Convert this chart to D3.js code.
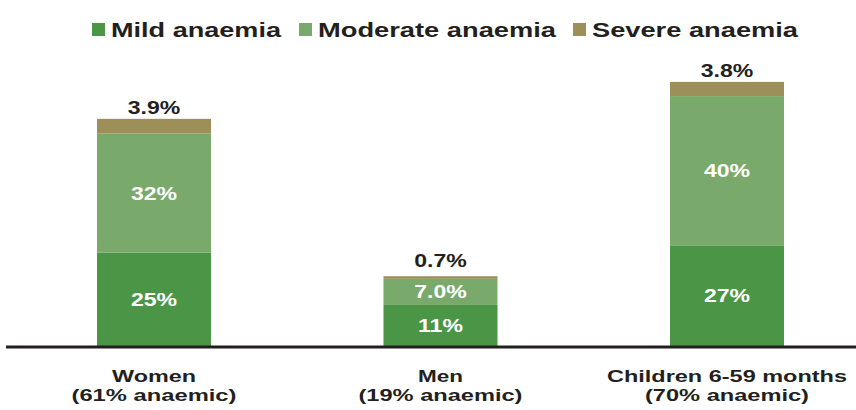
<!DOCTYPE html>
<html>
<head>
<meta charset="utf-8">
<script src="https://cdn.jsdelivr.net/npm/d3@7"></script>
<style>
body { margin: 0; background: #fff; }
</style>
</head>
<body>
<div id="chart"></div>
<script>
// data
let categories = ["Women", "Men", "Children 6-59 months"];
let subLabels = ["(61% anaemic)", "(19% anaemic)", "(70% anaemic)"];
let seriesNames = ["Mild anaemia", "Moderate anaemia", "Severe anaemia"];
let mild = [25, 11, 27];
let moderate = [32, 7.0, 40];
let severe = [3.9, 0.7, 3.8];
let valueLabels = [["25%", "11%", "27%"], ["32%", "7.0%", "40%"], ["3.9%", "0.7%", "3.8%"]];

let palette = ["#4a9646", "#79aa6b", "#9c8f58"];
let width = 856, height = 410;
let font = "'Liberation Sans', Arial, sans-serif";
let stretch = 1.28;   // the reference text is wide, stretch glyphs a bit

let svg = d3.select("#chart").append("svg")
    .attr("width", width)
    .attr("height", height);

let x = d3.scaleBand().domain(categories).range([10.75, 870.25]).paddingInner(0.602).paddingOuter(0.301);
let y = d3.scaleLinear().domain([0, 100]).range([346, -27]);

let table = categories.map(function(c, i){
    return {cat: c, mild: mild[i], moderate: moderate[i], severe: severe[i]};
});
let stack = d3.stack().keys(["mild", "moderate", "severe"]);
let layers = stack(table);

function widen(sel){
    sel.each(function(){
        let w = this.getComputedTextLength();
        d3.select(this).attr("textLength", w*stretch).attr("lengthAdjust", "spacingAndGlyphs");
    });
}

let barGroup = svg.append("g");
layers.forEach(function(layer, k){
    barGroup.append("g").selectAll("rect")
        .data(layer).enter()
        .append("rect")
            .attr("x", function(d){ return x(d.data.cat); })
            .attr("y", function(d){ return y(d[1]); })
            .attr("width", x.bandwidth())
            .attr("height", function(d){ return y(d[0]) - y(d[1]); })
            .attr("fill", palette[k]);
});

// inside labels (mild, moderate)
[0, 1].forEach(function(k){
    svg.append("g").selectAll("text")
        .data(layers[k]).enter()
        .append("text")
            .attr("x", function(d){ return x(d.data.cat) + x.bandwidth()/2; })
            .attr("y", function(d){ return (y(d[0]) + y(d[1]))/2; })
            .attr("dy", "0.36em")
            .attr("text-anchor", "middle")
            .attr("fill", "white")
            .attr("font-family", font)
            .attr("font-weight", "bold")
            .attr("font-size", 18)
            .text(function(d, i){ return valueLabels[k][i]; })
            .call(widen);
});

// severe labels above bars
svg.append("g").selectAll("text")
    .data(layers[2]).enter()
    .append("text")
        .attr("x", function(d){ return x(d.data.cat) + x.bandwidth()/2; })
        .attr("y", function(d, i){ return y(d[1]) - (i == 1 ? 9 : 5); })
        .attr("text-anchor", "middle")
        .attr("fill", "#231f20")
        .attr("font-family", font)
        .attr("font-weight", "bold")
        .attr("font-size", 18)
        .text(function(d, i){ return valueLabels[2][i]; })
        .call(widen);

// axis
let xAxis = svg.append("g").attr("class", "axis axis--x")
    .attr("transform", "translate(0," + 347 + ")")
    .call(d3.axisBottom(x).tickSize(0).tickFormat(""));
xAxis.select(".domain").remove();
xAxis.append("line")
    .attr("x1", 6).attr("x2", 856)
    .attr("y1", 0).attr("y2", 0)
    .attr("stroke", "#231f20")
    .attr("stroke-width", 3);

let catWidths = [84, 45, 240];
let subWidths = [165, 164, 164];
categories.forEach(function(c, i){
    let cx = x(c) + x.bandwidth()/2;
    svg.append("text")
        .attr("x", cx).attr("y", 382)
        .attr("text-anchor", "middle")
        .attr("font-family", font)
        .attr("font-weight", "bold")
        .attr("font-size", 17)
        .attr("fill", "#231f20")
        .attr("textLength", catWidths[i])
        .attr("lengthAdjust", "spacingAndGlyphs")
        .text(c);
    svg.append("text")
        .attr("x", cx).attr("y", 401)
        .attr("text-anchor", "middle")
        .attr("font-family", font)
        .attr("font-weight", "bold")
        .attr("font-size", 17)
        .attr("fill", "#231f20")
        .attr("textLength", subWidths[i])
        .attr("lengthAdjust", "spacingAndGlyphs")
        .text(subLabels[i]);
});

// legend
let legendX = [92, 299, 573];
let legendW = [170, 238, 206];
let legend = svg.append("g");
seriesNames.forEach(function(s, i){
    legend.append("rect")
        .attr("x", legendX[i]).attr("y", 23)
        .attr("width", 13).attr("height", 13)
        .attr("fill", palette[i]);
    legend.append("text")
        .attr("x", legendX[i] + 19).attr("y", 37)
        .attr("font-family", font)
        .attr("font-weight", "bold")
        .attr("font-size", 21)
        .attr("fill", "#231f20")
        .attr("textLength", legendW[i])
        .attr("lengthAdjust", "spacingAndGlyphs")
        .text(s);
});
</script>
</body>
</html>
